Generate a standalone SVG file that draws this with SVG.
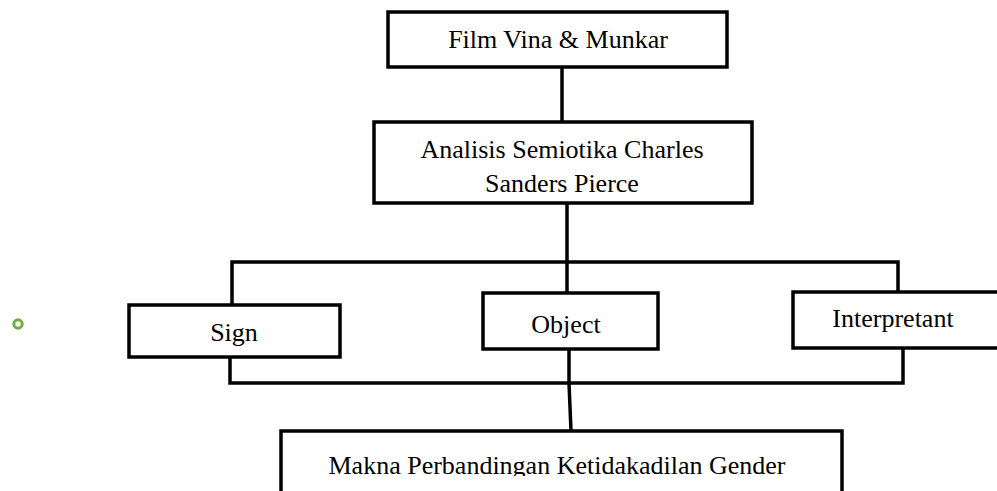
<svg xmlns="http://www.w3.org/2000/svg" width="997" height="491" viewBox="0 0 997 491">
<style>
.box{fill:#fff;stroke:#000;stroke-width:3.5}
.lbl{font-family:"Liberation Serif","Times New Roman",serif;font-size:26px;fill:#000;text-anchor:middle}
.con{fill:none;stroke:#000;stroke-width:3.5;stroke-linejoin:miter}
</style>
<defs>
<clipPath id="cut"><rect x="0" y="0" width="997" height="476"/></clipPath>
</defs>
<rect width="997" height="491" fill="#fff"/>
<g id="connectors">
<path class="con" d="M562 67 V122"/>
<path class="con" d="M567 203 V293"/>
<path class="con" d="M232 305 V262 H898 V292"/>
<path class="con" d="M230 357 V383 H903 V348"/>
<path class="con" d="M569 349 V383 L571 431"/>
</g>
<g id="bullet"><circle cx="18" cy="324" r="4.2" fill="none" stroke="#70AD47" stroke-width="3"/></g>
<g id="film">
<rect class="box" x="388" y="12" width="339" height="55"/>
<text class="lbl" x="558" y="48">Film Vina &amp; Munkar</text>
</g>
<g id="analisis">
<rect class="box" x="374" y="122" width="378" height="81"/>
<text class="lbl" x="562" y="158">Analisis Semiotika Charles</text>
<text class="lbl" x="562" y="192">Sanders Pierce</text>
</g>
<g id="sign">
<rect class="box" x="129" y="305" width="211" height="52"/>
<text class="lbl" x="234" y="341">Sign</text>
</g>
<g id="object">
<rect class="box" x="483" y="293" width="175" height="56"/>
<text class="lbl" x="566" y="333">Object</text>
</g>
<g id="interpretant">
<rect class="box" x="793" y="292" width="220" height="56"/>
<text class="lbl" x="893" y="327">Interpretant</text>
</g>
<g id="makna">
<rect class="box" x="281" y="431" width="561" height="80"/>
<text class="lbl" x="557" y="474" clip-path="url(#cut)">Makna Perbandingan Ketidakadilan Gender</text>
</g>
</svg>
